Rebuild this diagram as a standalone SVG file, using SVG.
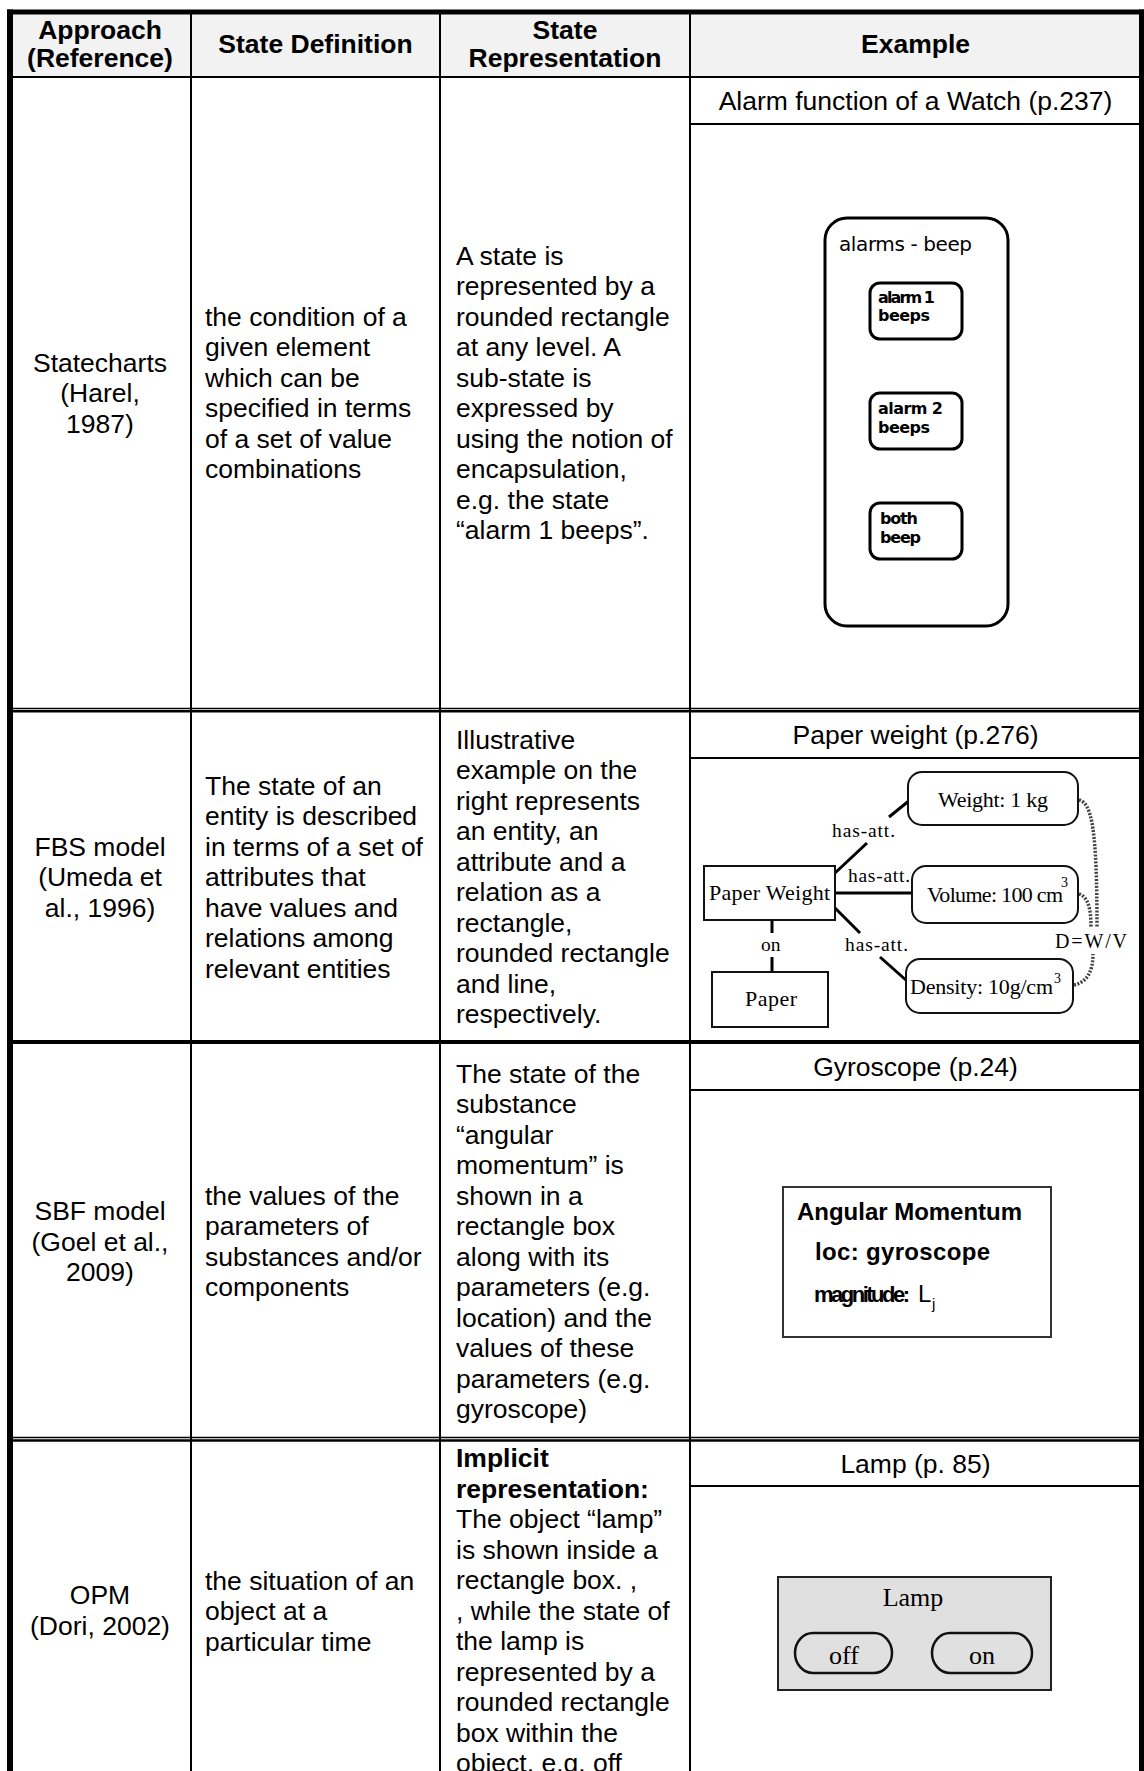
<svg xmlns="http://www.w3.org/2000/svg" width="1144" height="1771" viewBox="0 0 1144 1771">
  <style>
    text { fill: #000; }
    .t { font-family: "Liberation Sans", Arial, sans-serif; font-size: 26.5px; }
    .b { font-weight: bold; }
    .m { text-anchor: middle; }
    .rule { stroke: #000; stroke-width: 2; fill: none; }
    .frame { stroke: #000; fill: none; }
    .serif { font-family: "Liberation Serif", "Times New Roman", serif; }
    .geo { font-family: "DejaVu Sans", "Liberation Sans", sans-serif; }
    .ink { fill: none; stroke: #000; stroke-width: 3; }
    .box { fill: #fff; stroke: #111; stroke-width: 2; }
    .link { stroke: #000; stroke-width: 3; fill: none; }
    .dots { stroke: #444; stroke-width: 3.5; stroke-dasharray: 2 1.5; fill: none; }
  </style>

  <rect x="0" y="0" width="1144" height="1771" fill="#fff"/>

  <!-- table grid -->
  <g id="grid">
    <rect x="13" y="14.5" width="1126" height="61.5" fill="#f2f2f2"/>
    <path class="rule" d="M13,77 H1139"/>
    <path class="rule" d="M191,14 V1771 M440,14 V1771 M690,14 V1771"/>
    <path class="rule" d="M690,124 H1139 M690,758 H1139 M690,1090 H1139 M690,1486 H1139"/>
    <path class="frame" stroke-width="1.6" d="M7,708.5 H1144 M7,1437.5 H1144"/>
    <path class="frame" stroke-width="2.4" d="M7,711.3 H1144 M7,1440.5 H1144"/>
    <path class="frame" stroke-width="4" d="M7,1042 H1144"/>
    <path class="frame" stroke-width="6" d="M10,9.5 V1771"/>
    <path class="frame" stroke-width="5" d="M7,12 H1144"/>
    <path class="frame" stroke-width="5" d="M1141.5,9.5 V1771"/>
  </g>

  <!-- header row -->
  <g id="header" class="t b">
    <text class="m" x="100" y="38.5">Approach</text>
    <text class="m" x="100" y="67">(Reference)</text>
    <text class="m" x="315.5" y="53">State Definition</text>
    <text class="m" x="565" y="38.5">State</text>
    <text class="m" x="565" y="67">Representation</text>
    <text class="m" x="915.5" y="53">Example</text>
  </g>

  <!-- Statecharts row -->
  <g id="row-statecharts" class="t">
    <text class="m" x="100" y="371.5">Statecharts<tspan x="100" dy="30.5">(Harel,</tspan><tspan x="100" dy="30.5">1987)</tspan></text>
    <text x="205" y="325.75">the condition of a<tspan x="205" dy="30.5">given element</tspan><tspan x="205" dy="30.5">which can be</tspan><tspan x="205" dy="30.5">specified in terms</tspan><tspan x="205" dy="30.5">of a set of value</tspan><tspan x="205" dy="30.5">combinations</tspan></text>
    <text x="456" y="264.75">A state is<tspan x="456" dy="30.5">represented by a</tspan><tspan x="456" dy="30.5">rounded rectangle</tspan><tspan x="456" dy="30.5">at any level. A</tspan><tspan x="456" dy="30.5">sub-state is</tspan><tspan x="456" dy="30.5">expressed by</tspan><tspan x="456" dy="30.5">using the notion of</tspan><tspan x="456" dy="30.5">encapsulation,</tspan><tspan x="456" dy="30.5">e.g. the state</tspan><tspan x="456" dy="30.5">“alarm 1 beeps”.</tspan></text>
    <text class="m" x="915.5" y="110">Alarm function of a Watch (p.237)</text>
  </g>

  <!-- watch alarm statechart -->
  <g id="alarms-beep">
    <rect class="ink" x="825" y="218" width="183" height="408" rx="22"/>
    <text class="geo" x="839" y="251" font-size="20" textLength="133">alarms - beep</text>
  </g>
  <g id="alarm1-beeps">
    <rect class="ink" x="870" y="283" width="92" height="56" rx="10"/>
    <text class="geo b" x="878" y="303" font-size="16" textLength="57">alarm 1</text>
    <text class="geo b" x="878" y="321" font-size="16" textLength="52">beeps</text>
  </g>
  <g id="alarm2-beeps">
    <rect class="ink" x="870" y="393" width="92" height="56" rx="10"/>
    <text class="geo b" x="878" y="414" font-size="16" textLength="65">alarm 2</text>
    <text class="geo b" x="878" y="433" font-size="16" textLength="52">beeps</text>
  </g>
  <g id="both-beep">
    <rect class="ink" x="870" y="503" width="92" height="56" rx="10"/>
    <text class="geo b" x="880" y="524" font-size="16" textLength="38">both</text>
    <text class="geo b" x="880" y="543" font-size="16" textLength="41">beep</text>
  </g>

  <!-- FBS row -->
  <g id="row-fbs" class="t">
    <text class="m" x="100" y="855.5">FBS model<tspan x="100" dy="30.5">(Umeda et</tspan><tspan x="100" dy="30.5">al., 1996)</tspan></text>
    <text x="205" y="794.5">The state of an<tspan x="205" dy="30.5">entity is described</tspan><tspan x="205" dy="30.5">in terms of a set of</tspan><tspan x="205" dy="30.5">attributes that</tspan><tspan x="205" dy="30.5">have values and</tspan><tspan x="205" dy="30.5">relations among</tspan><tspan x="205" dy="30.5">relevant entities</tspan></text>
    <text x="456" y="748.75">Illustrative<tspan x="456" dy="30.5">example on the</tspan><tspan x="456" dy="30.5">right represents</tspan><tspan x="456" dy="30.5">an entity, an</tspan><tspan x="456" dy="30.5">attribute and a</tspan><tspan x="456" dy="30.5">relation as a</tspan><tspan x="456" dy="30.5">rectangle,</tspan><tspan x="456" dy="30.5">rounded rectangle</tspan><tspan x="456" dy="30.5">and line,</tspan><tspan x="456" dy="30.5">respectively.</tspan></text>
    <text class="m" x="915.5" y="744">Paper weight (p.276)</text>
  </g>

  <!-- paper weight attribute diagram: connectors -->
  <g id="fbs-connectors">
    <path class="link" d="M835,873 L867,843 M889,817 L910,800"/>
    <path class="link" d="M835,893 H912"/>
    <path class="link" d="M835,908 L860,933 M880,957 L907,981"/>
    <path class="link" stroke-width="4" d="M772,920 V933 M772,957 V972"/>
    <path class="dots" d="M1079,800 C1092,803 1097,830 1097,928"/>
    <path class="dots" d="M1079,894 C1088,897 1091,908 1091,928"/>
    <path class="dots" d="M1074,985 C1088,982 1093,970 1093,954"/>
    <g class="serif" font-size="19.5">
      <text x="832" y="837" textLength="63">has-att.</text>
      <text x="848" y="882" textLength="62">has-att.</text>
      <text x="845" y="951" textLength="63">has-att.</text>
      <text x="761" y="951">on</text>
      <text x="1055" y="948" font-size="20" textLength="72">D=W/V</text>
    </g>
  </g>
  <g id="paper-weight" class="serif">
    <rect class="box" x="704" y="866" width="131" height="54"/>
    <text x="709" y="900" font-size="22" textLength="121">Paper Weight</text>
  </g>
  <g id="paper" class="serif">
    <rect class="box" x="712" y="972" width="116" height="55"/>
    <text x="745" y="1006" font-size="22" textLength="52">Paper</text>
  </g>
  <g id="weight" class="serif">
    <rect class="box" x="908" y="772" width="170" height="53" rx="14"/>
    <text x="938" y="807" font-size="22" textLength="110">Weight: 1 kg</text>
  </g>
  <g id="volume" class="serif">
    <rect class="box" x="912" y="866" width="166" height="57" rx="14"/>
    <text x="927" y="902" font-size="22" textLength="136">Volume: 100 cm</text>
    <text x="1061" y="887" font-size="14">3</text>
  </g>
  <g id="density" class="serif">
    <rect class="box" x="906" y="959" width="167" height="54" rx="14"/>
    <text x="910" y="994" font-size="22" textLength="143">Density: 10g/cm</text>
    <text x="1054" y="983" font-size="14">3</text>
  </g>

  <!-- SBF row -->
  <g id="row-sbf" class="t">
    <text class="m" x="100" y="1220">SBF model<tspan x="100" dy="30.5">(Goel et al.,</tspan><tspan x="100" dy="30.5">2009)</tspan></text>
    <text x="205" y="1204.75">the values of the<tspan x="205" dy="30.5">parameters of</tspan><tspan x="205" dy="30.5">substances and/or</tspan><tspan x="205" dy="30.5">components</tspan></text>
    <text x="456" y="1082.75">The state of the<tspan x="456" dy="30.5">substance</tspan><tspan x="456" dy="30.5">“angular</tspan><tspan x="456" dy="30.5">momentum” is</tspan><tspan x="456" dy="30.5">shown in a</tspan><tspan x="456" dy="30.5">rectangle box</tspan><tspan x="456" dy="30.5">along with its</tspan><tspan x="456" dy="30.5">parameters (e.g.</tspan><tspan x="456" dy="30.5">location) and the</tspan><tspan x="456" dy="30.5">values of these</tspan><tspan x="456" dy="30.5">parameters (e.g.</tspan><tspan x="456" dy="30.5">gyroscope)</tspan></text>
    <text class="m" x="915.5" y="1076">Gyroscope (p.24)</text>
  </g>
  <g id="angular-momentum" class="t b">
    <rect x="783" y="1187" width="268" height="150" fill="#fff" stroke="#333" stroke-width="2"/>
    <text x="797" y="1220" font-size="24" textLength="225">Angular Momentum</text>
    <text x="815" y="1260" font-size="24" textLength="175">loc:  gyroscope</text>
    <text x="814" y="1302" font-size="22" textLength="96">magnitude:</text>
    <text x="918" y="1302" font-size="24" font-weight="normal">L</text>
    <text x="932" y="1309" font-size="15" font-weight="normal">j</text>
  </g>

  <!-- OPM row -->
  <g id="row-opm" class="t">
    <text class="m" x="100" y="1604">OPM<tspan x="100" dy="30.5">(Dori, 2002)</tspan></text>
    <text x="205" y="1589.5">the situation of an<tspan x="205" dy="30.5">object at a</tspan><tspan x="205" dy="30.5">particular time</tspan></text>
    <text x="456" y="1467"><tspan class="b">Implicit</tspan><tspan class="b" x="456" dy="30.5">representation:</tspan><tspan x="456" dy="30.5">The object “lamp”</tspan><tspan x="456" dy="30.5">is shown inside a</tspan><tspan x="456" dy="30.5">rectangle box. ,</tspan><tspan x="456" dy="30.5">, while the state of</tspan><tspan x="456" dy="30.5">the lamp is</tspan><tspan x="456" dy="30.5">represented by a</tspan><tspan x="456" dy="30.5">rounded rectangle</tspan><tspan x="456" dy="30.5">box within the</tspan><tspan x="456" dy="30.5">object, e.g. off</tspan></text>
    <text class="m" x="915.5" y="1473">Lamp (p. 85)</text>
  </g>
  <g id="lamp" class="serif">
    <rect x="778" y="1577" width="273" height="113" fill="#e0e0e0" stroke="#222" stroke-width="2"/>
    <text class="m" x="913" y="1606" font-size="26">Lamp</text>
  </g>
  <g id="lamp-off" class="serif">
    <rect x="795" y="1633" width="97" height="40" rx="18" ry="20" fill="none" stroke="#111" stroke-width="2.5"/>
    <text class="m" x="844" y="1664" font-size="26">off</text>
  </g>
  <g id="lamp-on" class="serif">
    <rect x="932" y="1633" width="100" height="40" rx="18" ry="20" fill="none" stroke="#111" stroke-width="2.5"/>
    <text class="m" x="982" y="1664" font-size="26">on</text>
  </g>
</svg>
